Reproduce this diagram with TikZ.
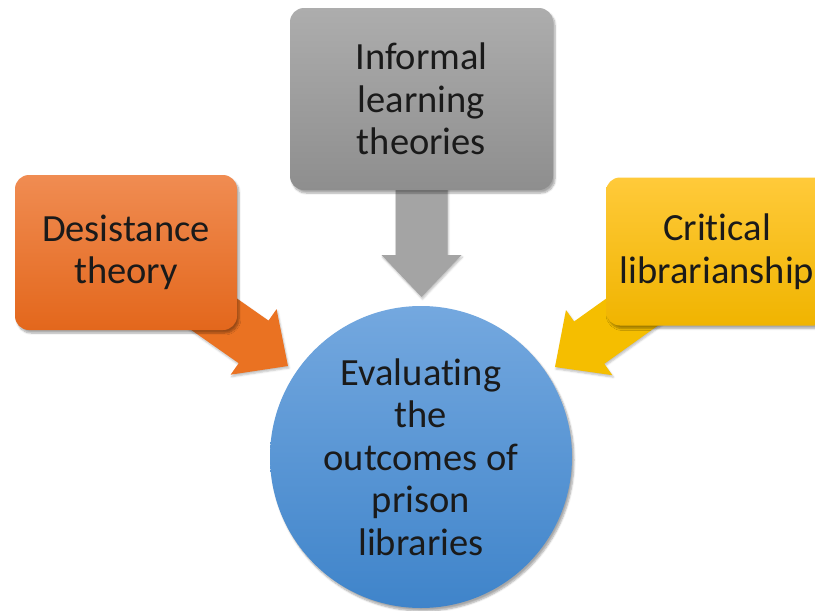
\documentclass[tikz,border=0pt]{standalone}
\usepackage{fontspec}
\setmainfont{Carlito}[Ligatures=NoCommon]
\usetikzlibrary{calc,shadows.blur}
\definecolor{orTop}{HTML}{F08C52}
\definecolor{orBot}{HTML}{E3671C}
\definecolor{orArr}{HTML}{EA7222}
\definecolor{grTop}{HTML}{ADADAD}
\definecolor{grBot}{HTML}{8E8E8E}
\definecolor{grArr}{HTML}{A4A4A4}
\definecolor{yeTop}{HTML}{FFCA3A}
\definecolor{yeBot}{HTML}{F0B400}
\definecolor{yeArr}{HTML}{F5BE00}
\definecolor{blTop}{HTML}{74A8DF}
\definecolor{blBot}{HTML}{3F84CA}
\definecolor{txt}{HTML}{1A1A1A}
\tikzset{
  lbl/.style={font=\fontsize{38.5}{42.5}\selectfont, align=center, text=txt},
  softshadow/.style={blur shadow={shadow xshift=2pt, shadow yshift=-3pt, shadow blur steps=6, shadow opacity=35}},
  box/.style={lbl, rounded corners=14pt, inner sep=0pt, softshadow},
  arrowshadow/.style={blur shadow={shadow xshift=1pt, shadow yshift=-2pt, shadow blur steps=4, shadow opacity=25}},
}
\newcommand{\blockarr}[4]{% #1 fill, #2 start, #3 tip, #4 name
  \coordinate (#4H) at ($(#3)!42pt!(#2)$);
  \fill[#1, arrowshadow] ($(#2)!26pt!90:(#3)$) -- ($(#4H)!26pt!90:(#3)$) -- ($(#4H)!40pt!90:(#3)$) -- (#3)
     -- ($(#4H)!40pt!-90:(#3)$) -- ($(#4H)!26pt!-90:(#3)$) -- ($(#2)!26pt!-90:(#3)$) -- cycle;
}
\begin{document}
\begin{tikzpicture}[x=1pt, y=-1pt]
  \useasboundingbox (0,0) rectangle (815,611);
  \clip (0,0) rectangle (815,611);
  % anchor coordinates
  \coordinate (grayC) at (421.5,99);
  \coordinate (orC) at (126,252.5);
  \coordinate (yeC) at (717,251.5);
  \coordinate (grayTip) at (421.5,297);
  \coordinate (orTip) at (288,366);
  \coordinate (yeTip) at (555,367);
  % arrows (behind boxes)
  \blockarr{grArr}{grayC}{grayTip}{ga}
  \blockarr{orArr}{orC}{orTip}{oa}
  \blockarr{yeArr}{yeC}{yeTip}{ya}
  % boxes
  \node[box, top color=grTop, bottom color=grBot, minimum width=263pt, minimum height=182pt] (gray) at (grayC) {Informal\\learning\\theories};
  \node[box, top color=orTop, bottom color=orBot, minimum width=222pt, minimum height=155pt] (orange) at (orC) {Desistance\\theory};
  \node[box, top color=yeTop, bottom color=yeBot, minimum width=222pt, minimum height=148pt] (yellow) at (yeC) {Critical\\librarianship};
  % circle
  \node[lbl, circle, inner sep=0pt, minimum size=302pt, top color=blTop, bottom color=blBot, softshadow] (goal) at (421,457) {Evaluating\\the\\outcomes of\\prison\\libraries};
\end{tikzpicture}
\end{document}
